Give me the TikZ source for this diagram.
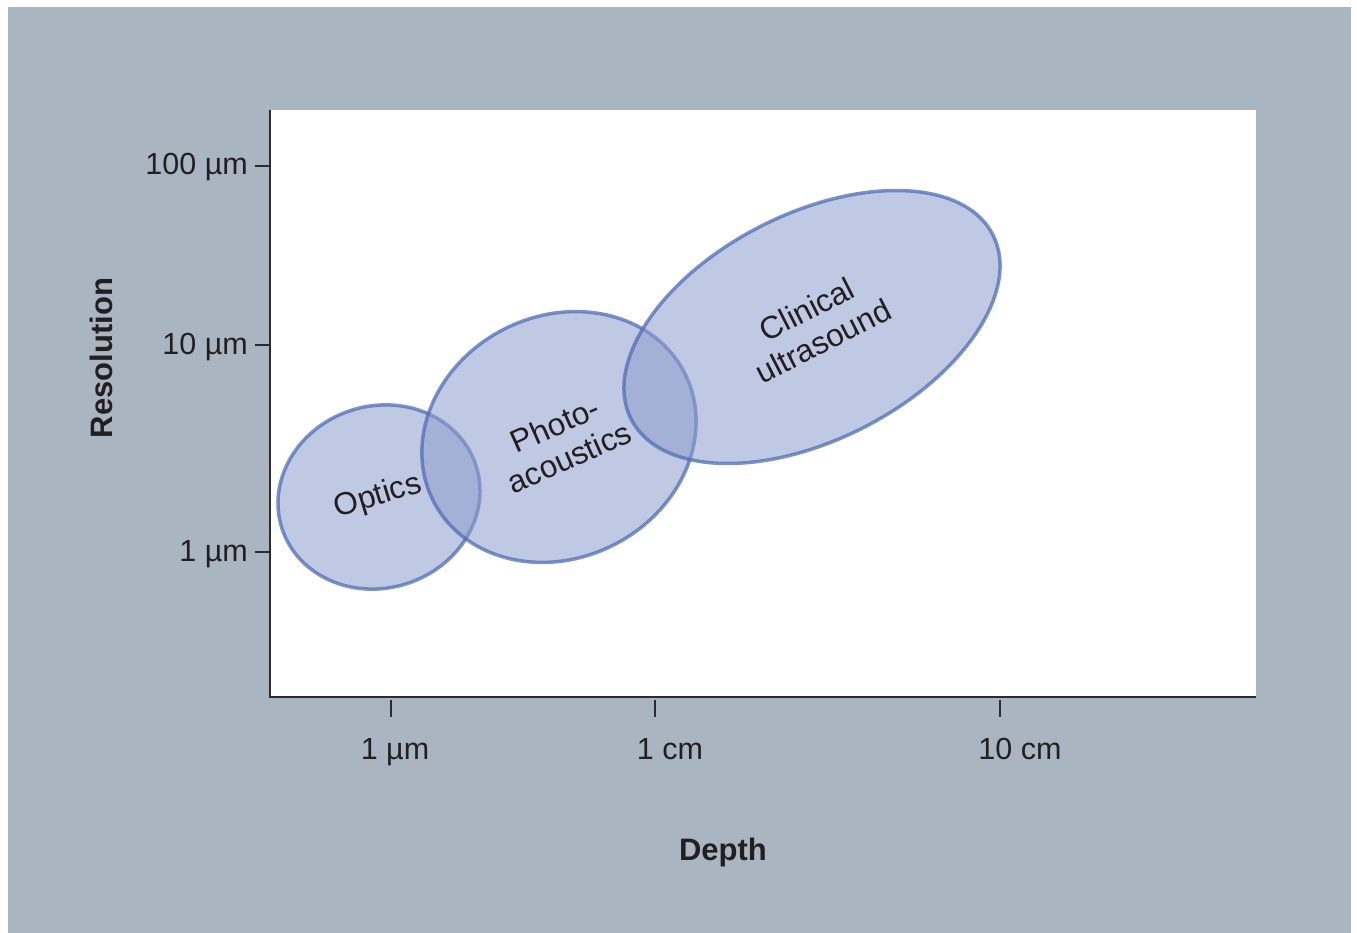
\documentclass[tikz,border=0pt]{standalone}
\usepackage{fontspec}
\setmainfont{Liberation Sans}
\usetikzlibrary{shapes.geometric}
\definecolor{bggray}{RGB}{170,181,194}
\definecolor{efill}{RGB}{142,157,204}
\definecolor{edraw}{RGB}{80,110,180}
\definecolor{axiscol}{RGB}{45,45,45}
\definecolor{txt}{RGB}{35,31,32}
\begin{document}
\begin{tikzpicture}[x=1pt,y=-1pt,
  region/.style={ellipse, draw=edraw, fill=efill, fill opacity=0.55, draw opacity=0.75, line width=3.5pt, inner sep=0pt},
  axisline/.style={draw=axiscol, line width=2.5pt},
  tickline/.style={draw=axiscol, line width=2pt},
  ticklabel/.style={text=txt, font=\fontsize{30.5}{34}\selectfont, inner sep=0pt},
  regionlabel/.style={text=txt, font=\fontsize{31.5}{36}\selectfont, align=center, inner sep=0pt},
  axistitle/.style={text=txt, font=\bfseries\fontsize{31}{34}\selectfont, inner sep=0pt}]
\useasboundingbox (0,0) rectangle (1357,933);
\fill[bggray] (8,7) rectangle (1351,933);
\fill[white] (270,110) rectangle (1256,697);
% regions
\node[region, minimum width=204pt, minimum height=182pt, rotate=18] (optics) at (379,497) {};
\node[region, minimum width=282pt, minimum height=242pt, rotate=27] (photo) at (559,437) {};
\node[region, minimum width=406pt, minimum height=226pt, rotate=27] (ultra) at (812,327) {};
\node[regionlabel, rotate=17] (opticslbl) at (378,497) {Optics};
\node[regionlabel, rotate=24] (photolbl) at (562,441) {Photo-\\acoustics};
\node[regionlabel, rotate=27] (ultralbl) at (815,325) {Clinical\\ultrasound};
% axes
\coordinate (ytop) at (270,110);
\coordinate (origin) at (270,697);
\coordinate (xend) at (1256,697);
\draw[axisline] (ytop) -- (origin) -- (xend);
% y ticks
\foreach \yy/\lab/\nm in {166/100 µm/a, 345/10 µm/b, 552/1 µm/c}{
  \coordinate (yt\nm a) at (255,\yy);
  \coordinate (yt\nm b) at (270,\yy);
  \draw[tickline] (yt\nm a) -- (yt\nm b);
  \node[ticklabel, anchor=base east] (ylab\nm) at (248,\yy+9) {\lab};
}
% x ticks
\foreach \xx/\lx/\lab/\nm in {391/395/1 µm/a, 655/670/1 cm/b, 1000/1020/10 cm/c}{
  \coordinate (xt\nm a) at (\xx,700);
  \coordinate (xt\nm b) at (\xx,717);
  \draw[tickline] (xt\nm a) -- (xt\nm b);
  \node[ticklabel, anchor=base] (xlab\nm) at (\lx,759) {\lab};
}
\node[axistitle, rotate=90, anchor=base] (ytitle) at (112,358) {Resolution};
\node[axistitle, anchor=base] (xtitle) at (723,860) {Depth};
\end{tikzpicture}
\end{document}
